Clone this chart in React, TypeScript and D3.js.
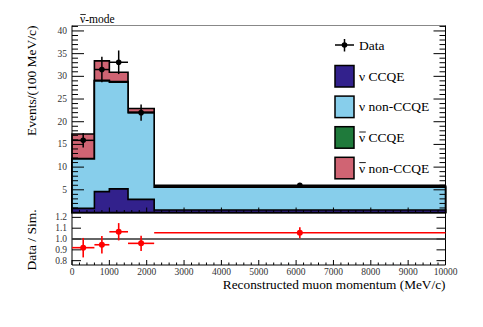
import React from 'react';
import * as d3 from 'd3';

// bin edges in MeV/c
const binEdges = [0, 600, 1000, 1500, 2200, 10000];

// stacked MC (events / 100 MeV/c), bottom to top
const nuCCQE = [0.9, 4.6, 5.2, 2.9, 0.55];
const nuNonCCQE = [10.9, 24.4, 23.5, 19.1, 5.05];
const nubarCCQE = [0.1, 0.15, 0.15, 0.1, 0.02];
const nubarNonCCQE = [5.4, 4.25, 2.05, 0.8, 0.28];

// data points
const dataX = [300, 800, 1250, 1850, 6100];
const dataY = [15.9, 31.5, 33.1, 22.0, 6.0];
const dataErr = [1.6, 2.8, 2.6, 1.8, 0.3];

// data / simulation
const ratioY = [0.92, 0.947, 1.067, 0.96, 1.058];
const ratioErr = [0.09, 0.08, 0.08, 0.07, 0.05];

const xTicks = [0, 1000, 2000, 3000, 4000, 5000, 6000, 7000, 8000, 9000, 10000];
const yTicks = [5, 10, 15, 20, 25, 30, 35, 40];
const ratioTicks = [0.8, 0.9, 1.0, 1.1, 1.2];

const legendItems = [
  { bar: false, label: ' CCQE', color: '#32218c' },
  { bar: false, label: ' non-CCQE', color: '#87ceeb' },
  { bar: true, label: ' CCQE', color: '#1f7a3b' },
  { bar: true, label: ' non-CCQE', color: '#d06473' },
];

const W = 483;
const H = 327;
const font = "'Liberation Serif', 'Times New Roman', Times, serif";

export default function App() {
  const left = 72, right = 445.5, top = 25.5, mid = 212.5, bottom = 265;

  const x = d3.scaleLinear().domain([0, 10000]).range([left, right]);
  const y = d3.scaleLinear().domain([0, 41.2]).range([mid, top]);
  const yr = d3.scaleLinear().domain([0.76, 1.245]).range([bottom, mid]);

  // cumulative stack
  const layers = [nuCCQE, nuNonCCQE, nubarCCQE, nubarNonCCQE];
  const cum: number[][] = [];
  layers.forEach((l, i) => {
    cum.push(l.map((v, b) => v + (i > 0 ? cum[i - 1][b] : 0)));
  });

  const area = d3.area<[number, number]>()
    .x(d => x(d[0]))
    .y0(y(0))
    .y1(d => y(d[1]))
    .curve(d3.curveStepAfter);

  const histPath = (vals: number[]) => {
    const pts: [number, number][] = vals.map((v, i) => [binEdges[i], v]);
    pts.push([binEdges[binEdges.length - 1], vals[vals.length - 1]]);
    return area(pts) || '';
  };

  const minorY = d3.range(1, 42).filter(v => v % 5 !== 0);
  const minorX = d3.range(0, 10001, 200).filter(v => v % 1000 !== 0);

  return (
    <svg width={W} height={H} fontFamily={font}
      style={{ position: 'absolute', left: 0, top: 0, background: '#fff', fontFamily: font }}>
      {/* stacked histograms, drawn top layer first */}
      {[3, 2, 1, 0].map(i => (
        <path key={i} d={histPath(cum[i])} fill={legendItems[i].color}
          stroke="#000" strokeWidth={1.6} />
      ))}

      {/* top frame */}
      <line x1={left} x2={right} y1={top} y2={top} stroke="#888" strokeWidth={1} />
      <line x1={left} x2={left} y1={top} y2={mid} stroke="#000" strokeWidth={1} />
      <line x1={right} x2={right} y1={top} y2={mid} stroke="#000" strokeWidth={1} />
      <line x1={left} x2={right} y1={mid} y2={mid} stroke="#000" strokeWidth={1} />

      {/* y ticks, top panel */}
      {yTicks.map(t => (
        <g key={'yt' + t}>
          <line x1={left} x2={left + 12} y1={y(t)} y2={y(t)} stroke="#000" />
          <line x1={right} x2={right - 12} y1={y(t)} y2={y(t)} stroke="#000" />
          <text x={left - 5} y={y(t) + 3} fontSize={9.5} textAnchor="end" fill="#333">{t}</text>
        </g>
      ))}
      {minorY.map(t => (
        <g key={'ym' + t}>
          <line x1={left} x2={left + 6} y1={y(t)} y2={y(t)} stroke="#000" />
          <line x1={right} x2={right - 6} y1={y(t)} y2={y(t)} stroke="#000" />
        </g>
      ))}
      {/* x ticks on both panels */}
      {[mid, bottom].map(b => (
        <g key={'xb' + b}>
          {xTicks.map(t => (
            <line key={t} x1={x(t)} x2={x(t)} y1={b} y2={b - 5} stroke="#000" />
          ))}
          {minorX.map(t => (
            <line key={'m' + t} x1={x(t)} x2={x(t)} y1={b} y2={b - 2.5} stroke="#000" />
          ))}
        </g>
      ))}

      {/* data points */}
      {dataX.map((dx, i) => (
        <g key={'d' + i}>
          <line x1={x(binEdges[i])} x2={x(binEdges[i + 1])} y1={y(dataY[i])} y2={y(dataY[i])}
            stroke="#000" strokeWidth={1.5} />
          <line x1={x(dx)} x2={x(dx)} y1={y(dataY[i] - dataErr[i])} y2={y(dataY[i] + dataErr[i])}
            stroke="#000" strokeWidth={1.5} />
          <circle cx={x(dx)} cy={y(dataY[i])} r={2.8} fill="#000" />
        </g>
      ))}

      {/* legend */}
      <g>
        <line x1={335} x2={354} y1={45} y2={45} stroke="#000" strokeWidth={1.5} />
        <line x1={344.5} x2={344.5} y1={39} y2={51.5} stroke="#000" strokeWidth={1.5} />
        <circle cx={344.5} cy={45} r={2.8} fill="#000" />
        <text x={359} y={49.5} fontSize={13.5}>Data</text>
        {legendItems.map((it, i) => (
          <g key={i}>
            <rect x={335} y={65.5 + i * 30.6} width={19} height={21.5} fill={it.color}
              stroke="#000" strokeWidth={1.5} />
            <text x={359} y={80.8 + i * 30.6} fontSize={13.5}>ν{it.label}</text>
            {it.bar && <line x1={359.3} x2={365.8} y1={70.8 + i * 30.6} y2={70.8 + i * 30.6} stroke="#000" strokeWidth={0.9} />}
          </g>
        ))}
      </g>

      <text x={80} y={22.5} fontSize={11.5}>ν-mode</text>
      <line x1={80.3} x2={85.8} y1={14.5} y2={14.5} stroke="#000" strokeWidth={0.8} />

      {/* ratio panel */}
      <line x1={left} x2={left} y1={mid} y2={bottom} stroke="#000" />
      <line x1={right} x2={right} y1={mid} y2={bottom} stroke="#000" />
      <line x1={left} x2={right} y1={bottom} y2={bottom} stroke="#000" />
      {ratioTicks.map(t => (
        <g key={'rt' + t}>
          <line x1={left} x2={left + 9} y1={yr(t)} y2={yr(t)} stroke="#000" />
          <line x1={right} x2={right - 9} y1={yr(t)} y2={yr(t)} stroke="#000" />
          <text x={left - 5} y={yr(t) + 3} fontSize={9.5} textAnchor="end" fill="#333">{t.toFixed(1)}</text>
        </g>
      ))}
      <line x1={left} x2={right} y1={yr(1)} y2={yr(1)} stroke="#333" strokeWidth={1.5} />
      {dataX.map((dx, i) => (
        <g key={'r' + i}>
          <line x1={x(binEdges[i])} x2={x(binEdges[i + 1])} y1={yr(ratioY[i])} y2={yr(ratioY[i])}
            stroke="#f00" strokeWidth={1.6} />
          <line x1={x(dx)} x2={x(dx)} y1={yr(ratioY[i] - ratioErr[i])} y2={yr(ratioY[i] + ratioErr[i])}
            stroke="#f00" strokeWidth={1.6} />
          <circle cx={x(dx)} cy={yr(ratioY[i])} r={3} fill="#f00" />
        </g>
      ))}

      {xTicks.map(t => (
        <text key={'xl' + t} x={x(t)} y={274.5} fontSize={9.5} textAnchor="middle" fill="#333">{t}</text>
      ))}

      {/* axis titles */}
      <text x={right} y={288.5} fontSize={13.3} textAnchor="end">Reconstructed muon momentum (MeV/c)</text>
      <text transform={`translate(36,${top}) rotate(-90)`} fontSize={13.5} textAnchor="end">Events/(100 MeV/c)</text>
      <text transform={`translate(36,240) rotate(-90)`} fontSize={13.5} textAnchor="middle">Data / Sim.</text>
    </svg>
  );
}
